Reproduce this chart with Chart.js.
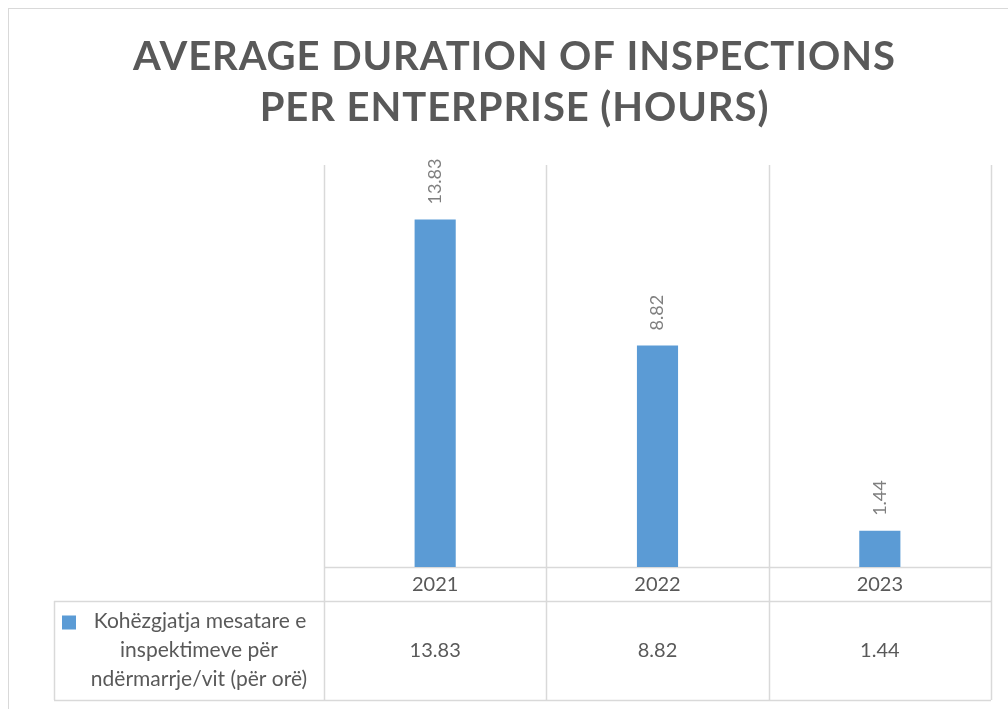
<!DOCTYPE html>
<html>
<head>
<meta charset="utf-8">
<title>Average duration of inspections per enterprise</title>
<script src="https://cdn.jsdelivr.net/npm/chart.js@4.4.0/dist/chart.umd.min.js"></script>
<style>
    html, body { margin: 0; padding: 0; background: #fff; }
    #wrap { position: relative; width: 1008px; height: 709px; overflow: hidden; }
    #frame { position: absolute; left: 8px; top: 8px; width: 1020px; height: 720px; border: 1px solid #d9d9d9; box-sizing: border-box; }
    #wrap canvas { position: absolute; left: 0; top: 0; }
</style>
</head>
<body>
<div id="wrap">
    <div id="frame"></div>
    <canvas id="chart" width="1008" height="709"></canvas>
</div>
<script>
// Datos del gráfico
const titleLines = ['AVERAGE DURATION OF INSPECTIONS', 'PER ENTERPRISE (HOURS)'];
const categories = ['2021', '2022', '2023'];
const seriesName = ['Kohëzgjatja mesatare e', 'inspektimeve për', 'ndërmarrje/vit (për orë)'];
const values = [13.83, 8.82, 1.44];

const FONT = 'Lato, "Open Sans", sans-serif';
const BAR_COLOR = '#5b9bd5';
const LINE_COLOR = '#d9d9d9';
const TEXT_COLOR = '#595959';

// Título con espaciado de letras (como en Excel)
const titlePlugin = {
    id: 'excelTitle',
    afterDraw(chart) {
        const ctx = chart.ctx;
        ctx.save();
        ctx.font = 'bold 40px ' + FONT;
        ctx.fillStyle = TEXT_COLOR;
        ctx.textAlign = 'center';
        ctx.textBaseline = 'middle';
        // ajustar el espaciado para que la primera línea mida lo mismo que en el original
        const natural = ctx.measureText(titleLines[0]).width;
        const spacing = (762 - natural) / (titleLines[0].length - 1);
        if ('letterSpacing' in ctx) ctx.letterSpacing = spacing.toFixed(2) + 'px';
        ctx.fillText(titleLines[0], 514 + spacing / 2, 57);
        ctx.fillText(titleLines[1], 514 + spacing / 2, 108);
        ctx.restore();
    }
};

// Tabla de datos bajo el gráfico
const tablePlugin = {
    id: 'excelTable',
    beforeDatasetsDraw(chart) {
        const ctx = chart.ctx;
        const x = chart.scales.x;
        const area = chart.chartArea;
        const step = x.getPixelForValue(1) - x.getPixelForValue(0);
        const edges = categories.map((c, i) => x.getPixelForValue(i) - step / 2);
        edges.push(x.getPixelForValue(categories.length - 1) + step / 2);
        const catBottom = area.bottom + 34;
        const tableBottom = 700;
        const tableLeft = 54;

        ctx.save();
        ctx.strokeStyle = LINE_COLOR;
        ctx.lineWidth = 1.5;
        ctx.beginPath();
        edges.forEach(px => {
            ctx.moveTo(Math.round(px) + 0.5, area.top);
            ctx.lineTo(Math.round(px) + 0.5, tableBottom);
        });
        ctx.moveTo(tableLeft + 0.5, catBottom);
        ctx.lineTo(tableLeft + 0.5, tableBottom);
        ctx.moveTo(edges[0], area.bottom + 0.5);
        ctx.lineTo(edges[edges.length - 1], area.bottom + 0.5);
        ctx.moveTo(tableLeft, catBottom + 0.5);
        ctx.lineTo(edges[edges.length - 1], catBottom + 0.5);
        ctx.moveTo(tableLeft, tableBottom + 0.5);
        ctx.lineTo(edges[edges.length - 1], tableBottom + 0.5);
        ctx.stroke();
        ctx.restore();
    },
    afterDraw(chart) {
        const ctx = chart.ctx;
        const x = chart.scales.x;
        const area = chart.chartArea;
        const catBottom = area.bottom + 34;
        const rowMid = (catBottom + 700) / 2;

        ctx.save();
        ctx.fillStyle = TEXT_COLOR;
        ctx.font = '20px ' + FONT;
        ctx.textAlign = 'center';
        ctx.textBaseline = 'middle';
        categories.forEach((c, i) => {
            const px = x.getPixelForValue(i);
            ctx.fillText(c, px, (area.bottom + catBottom) / 2 + 1);
            ctx.fillText(values[i].toFixed(2), px, rowMid);
        });

        // leyenda dentro de la tabla
        ctx.fillStyle = BAR_COLOR;
        ctx.fillRect(62, rowMid - 35, 14, 14);
        ctx.fillStyle = TEXT_COLOR;
        ctx.font = '21px ' + FONT;
        ctx.fillText(seriesName[0], 200, rowMid - 29);
        ctx.fillText(seriesName[1], 199, rowMid);
        ctx.fillText(seriesName[2], 199, rowMid + 29);

        // etiquetas de datos verticales sobre las barras
        const meta = chart.getDatasetMeta(0);
        ctx.fillStyle = '#7f7f7f';
        ctx.font = '18px ' + FONT;
        ctx.textAlign = 'left';
        meta.data.forEach((bar, i) => {
            ctx.save();
            ctx.translate(bar.x, bar.y - 15);
            ctx.rotate(-Math.PI / 2);
            ctx.fillText(values[i].toFixed(2), 0, 0);
            ctx.restore();
        });
        ctx.restore();
    }
};

document.addEventListener('DOMContentLoaded', () => {
    const ctx = document.getElementById('chart');
    new Chart(ctx, {
        type: 'bar',
        data: {
            labels: categories,
            datasets: [{
                label: seriesName.join(' '),
                data: values,
                backgroundColor: BAR_COLOR,
                borderWidth: 0,
                categoryPercentage: 1,
                barPercentage: 0.185
            }]
        },
        options: {
            responsive: false,
            animation: false,
            layout: {
                padding: { left: 324, right: 17, top: 165, bottom: 142 }
            },
            plugins: {
                legend: { display: false },
                title: { display: false },
                tooltip: { enabled: false }
            },
            scales: {
                x: { display: false, offset: true },
                y: { display: false, min: 0, max: 16 }
            }
        },
        plugins: [tablePlugin, titlePlugin]
    });
});
</script>
</body>
</html>
